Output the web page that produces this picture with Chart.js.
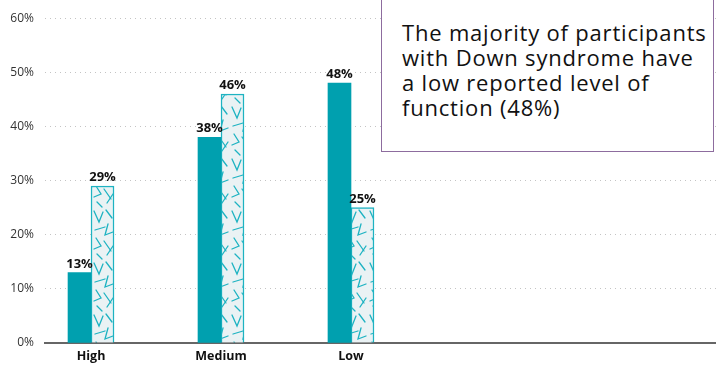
<!DOCTYPE html>
<html>
<head>
<meta charset="utf-8">
<title>Level of function</title>
<script src="https://cdn.jsdelivr.net/npm/chart.js@4.4.2/dist/chart.umd.min.js"></script>
<style>
  html, body { margin: 0; padding: 0; background: #fff; }
  #wrap { position: relative; width: 716px; height: 365px; overflow: hidden; }
  #note {
    position: absolute; left: 381px; top: -2px; width: 311px; height: 131px;
    padding: 21px 0 0 20px;
    background: #fff; border: 1px solid #8d6c9e;
    font: 22px/25px "Open Sans", sans-serif; letter-spacing: 0.8px; color: #111;
    white-space: nowrap;
  }
</style>
</head>
<body>
<div id="wrap">
  <canvas id="chart" width="716" height="365"></canvas>
  <div id="note">The majority of participants<br>with Down syndrome have<br>a low reported level of<br>function (48%)</div>
</div>
<script>
// ---------- DATA ----------
const categories  = ["High", "Medium", "Low"];
const downValues  = [13, 38, 48];   // solid teal bars
const otherValues = [29, 46, 25];   // patterned bars
const yTicks      = [0, 10, 20, 30, 40, 50, 60];

const TEAL  = "#00a0af";
const LIGHT = "#1eb3c2";

// ---------- HATCH PATTERN (scattered angle strokes) ----------
function makePattern() {
  const tile = document.createElement("canvas");
  tile.width = 23; tile.height = 52;
  const c = tile.getContext("2d");
  c.fillStyle = "#eaf2f4";
  c.fillRect(0, 0, tile.width, tile.height);
  c.strokeStyle = LIGHT;
  c.lineWidth = 1.3;
  c.lineCap = "round";
  const strokes = [
    [[2, 3], [7, 14], [11, 4]],
    [[14, 2], [20, 10]],
    [[3, 22], [13, 19]],
    [[16, 16], [13, 27], [21, 24]],
    [[4, 30], [9, 38], [2, 41]],
    [[12, 33], [19, 43]],
    [[15, 47], [21, 38]],
    [[5, 46], [10, 51]]
  ];
  strokes.forEach(pts => {
    c.beginPath();
    c.moveTo(pts[0][0], pts[0][1]);
    for (let i = 1; i < pts.length; i++) c.lineTo(pts[i][0], pts[i][1]);
    c.stroke();
  });
  return c.createPattern(tile, "repeat");
}

// ---------- VALUE LABELS ----------
const valueLabels = {
  id: "valueLabels",
  afterDatasetsDraw(chart) {
    const ctx = chart.ctx;
    ctx.save();
    ctx.font = "bold 13px 'Open Sans', sans-serif";
    ctx.fillStyle = "#111";
    ctx.textAlign = "center";
    ctx.textBaseline = "bottom";
    chart.data.datasets.forEach((ds, di) => {
      chart.getDatasetMeta(di).data.forEach((bar, i) => {
        ctx.fillText(ds.data[i].y + "%", bar.x, bar.y - 2);
      });
    });
    ctx.restore();
  }
};

new Chart(document.getElementById("chart"), {
  type: "bar",
  data: {
    datasets: [
      {
        data: downValues.map((v, i) => ({ x: i, y: v })),
        backgroundColor: TEAL,
        borderWidth: 0
      },
      {
        data: otherValues.map((v, i) => ({ x: i, y: v })),
        backgroundColor: makePattern(),
        borderColor: LIGHT,
        borderWidth: 1.5
      }
    ]
  },
  options: {
    responsive: false,
    animation: false,
    barThickness: 23,
    layout: { padding: { top: 17, right: 0, left: 0, bottom: 0 } },
    plugins: { legend: { display: false }, tooltip: { enabled: false } },
    scales: {
      x: {
        type: "linear",
        offset: false,
        min: -0.354,
        max: 4.808,
        afterFit(s) { s.height = 22; },
        afterBuildTicks(s) { s.ticks = categories.map((_, i) => ({ value: i })); },
        ticks: {
          callback: v => categories[v],
          color: "#111",
          font: { family: "'Open Sans', sans-serif", size: 12.5, weight: "bold" },
          padding: 6,
          maxRotation: 0
        },
        grid: { display: false, drawTicks: false },
        border: { display: true, color: "#666", width: 2 }
      },
      y: {
        min: 0,
        max: 60,
        afterFit(s) { s.width = 45; },
        afterBuildTicks(s) { s.ticks = yTicks.map(v => ({ value: v })); },
        ticks: {
          callback: v => v + "%",
          color: "#333",
          font: { family: "'Open Sans', sans-serif", size: 12 },
          padding: 11
        },
        grid: { color: "#c4c4c4", lineWidth: 1, drawTicks: false },
        border: { display: false, dash: [1, 4] }
      }
    }
  },
  plugins: [valueLabels]
});
</script>
</body>
</html>
